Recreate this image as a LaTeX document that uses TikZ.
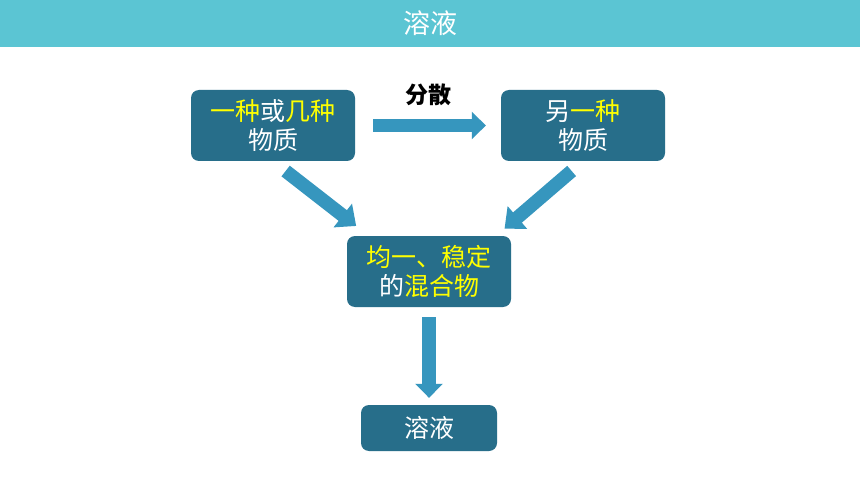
\documentclass[tikz,border=0pt]{standalone}
\usepackage{fontspec}
\usepackage{xcolor}
\usepackage{tikz}
\usetikzlibrary{arrows.meta}
\newfontfamily\cjk{Noto Sans CJK SC}
\definecolor{bannerteal}{RGB}{91,197,211}
\definecolor{boxteal}{RGB}{39,110,138}
\definecolor{arrowblue}{RGB}{54,150,190}
\definecolor{hiyellow}{RGB}{255,255,0}

\tikzset{
    stepbox/.style={fill=boxteal, rounded corners=8pt, text=white, align=center,
        font=\cjk\fontsize{25}{29}\selectfont, inner sep=0pt},
    blockarrow/.style={arrowblue, line width=13.5pt, -{Triangle[length=14pt, width=27pt]}}
}

\begin{document}
\begin{tikzpicture}[x=1pt, y=-1pt]
        \fill[white] (0, 0) rectangle (860, 484);
        \useasboundingbox (0, 0) rectangle (860, 484);

        \fill[bannerteal] (0, 0) rectangle (860, 47);
        \node[text=white, font=\cjk\fontsize{27}{32}\selectfont] (title) at (430, 23) {溶液};

        \node[stepbox, minimum width=164pt, minimum height=71pt] (solute) at (273, 125.5)
            {\textcolor{hiyellow}{一种}或\textcolor{hiyellow}{几种}\\物质};
        \node[stepbox, minimum width=164pt, minimum height=71pt] (solvent) at (583, 125.5)
            {另\textcolor{hiyellow}{一种}\\物质};
        \node[stepbox, minimum width=164pt, minimum height=71pt] (mixture) at (429, 271.5)
            {\textcolor{hiyellow}{均一、稳定}\\的\textcolor{hiyellow}{混合物}};
        \node[stepbox, minimum width=136pt, minimum height=46pt] (solution) at (429, 428) {溶液};

        \draw[blockarrow, shorten <=18pt, shorten >=15pt] (solute.east) -- (solvent.west)
            node[pos=0.5, yshift=31pt, text=black, font=\cjk\bfseries\fontsize{23}{28}\selectfont] (disperse) {分散};

        \draw[blockarrow, -{Triangle[length=17pt, width=29pt]}, shorten <=16pt, shorten >=16pt]
            (solute.south) -- ([xshift=22pt]mixture.north west);

        \draw[blockarrow, -{Triangle[length=17pt, width=29pt]}, shorten <=15pt, shorten >=11pt]
            (solvent.south) -- ([xshift=-15pt]mixture.north east);

        \draw[blockarrow, -{Triangle[length=14pt, width=27pt]}, shorten <=10pt, shorten >=7pt]
            (mixture.south) -- (solution.north);

    \end{tikzpicture}
\end{document}
